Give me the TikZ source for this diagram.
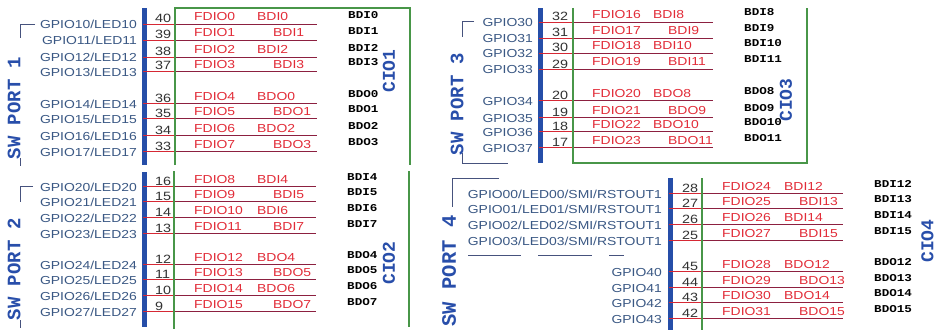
\documentclass[tikz,border=0pt]{standalone}
\usepackage{fontspec}
\setmainfont{Liberation Sans}[FakeStretch=1.2]
\newfontfamily\monofont{Liberation Mono}[FakeStretch=1.2]
\newfontfamily\monorot{Liberation Mono}
\definecolor{gpiocol}{RGB}{58,88,132}
\definecolor{redtxt}{RGB}{226,44,56}
\definecolor{pincol}{RGB}{50,50,50}
\definecolor{bluetxt}{RGB}{40,78,170}
\definecolor{barcol}{RGB}{38,78,168}
\definecolor{greencol}{RGB}{72,150,72}
\definecolor{sigred}{RGB}{214,40,52}
\definecolor{sigdark}{RGB}{140,32,64}
\definecolor{brkcol}{RGB}{70,82,125}
\tikzset{
  gpio/.style={font=\fontsize{11.6}{12}\selectfont, text=gpiocol, anchor=base east, inner sep=0},
  pinno/.style={font=\fontsize{12}{12}\selectfont, text=pincol, anchor=base west, inner sep=0},
  fdio/.style={font=\fontsize{11.6}{12}\selectfont, text=redtxt, anchor=base west, inner sep=0},
  bdo/.style={font=\monofont\bfseries\fontsize{10.5}{11}\selectfont, text=black, anchor=base west, inner sep=0},
  rotlbl/.style={font=\monorot\bfseries\fontsize{19}{20}\selectfont, text=bluetxt, rotate=90, inner sep=0},
  ciolbl/.style={font=\monorot\bfseries\fontsize{18}{20}\selectfont, text=bluetxt, rotate=90, inner sep=0},
  sigA/.style={draw=sigred, line width=0.9pt},
  sigB/.style={draw=sigdark, line width=0.9pt},
  grn/.style={draw=greencol, line width=1.1pt},
  brk/.style={draw=brkcol, line width=1pt},
}
\begin{document}
\begin{tikzpicture}[x=1pt,y=-1pt]
\useasboundingbox (0,0) rectangle (936,329);
\fill[white] (0,0) rectangle (936,329);
\clip (0,0) rectangle (936,329);

% ---------------- Block 1 ----------------
\fill[barcol] (142,8) rectangle (147,165);
\foreach \y/\p [count=\k from 0] in {24/40,40/39,57/38,71/37,103/36,118/35,135/34,151/33} {
  \pgfmathtruncatemacro\m{mod(\k,4)}
  \pgfmathtruncatemacro\bx{mod(\k,2)==0 ? 257 : 273}
  \coordinate (a1-\k) at (143,\y);
  \coordinate (m1-\k) at (175,\y);
  \coordinate (e1-\k) at (317,\y);
  \draw[sigA] (a1-\k) -- (m1-\k);
  \draw[sigB] (m1-\k) -- (e1-\k);
  \node[gpio] (g1-\k) at (137,\y+5) {GPIO1\k/LED1\k};
  \node[pinno] (n1-\k) at (155,\y-1) {\p};
  \node[fdio] (f1-\k) at (194,\y-3) {FDIO\k};
  \node[fdio] (b1-\k) at (\bx,\y-3) {\ifnum\k<4 BDI\m\else BDO\m\fi};
  \node[bdo] (r1-\k) at (348,\y-5.2) {\ifnum\k<4 BDI\m\else BDO\m\fi};
}
\draw[grn] (175,165) -- (175,8) -- (410,8) -- (410,165);
\node[ciolbl] (cio1) at (389,71) {CIO1};
\node[rotlbl] (sw1) at (14,108) {SW PORT 1};
\coordinate (t1a) at (35,25); \coordinate (t1b) at (20,25); \coordinate (t1c) at (20,38);
\draw[brk] (t1a) -- (t1b) -- (t1c);
\coordinate (u1a) at (20,158); \coordinate (u1b) at (20,166);
\draw[brk] (u1a) -- (u1b);

% ---------------- Block 2 ----------------
\fill[barcol] (142,172) rectangle (147,327);
\foreach \y/\p [count=\k from 0] in {186/16,201/15,217/14,233/13,264/12,279/11,295/10,311/9} {
  \pgfmathtruncatemacro\m{mod(\k,4)+4}
  \pgfmathtruncatemacro\fd{\k+8}
  \pgfmathtruncatemacro\bx{mod(\k,2)==0 ? 257 : 273}
  \coordinate (a2-\k) at (143,\y);
  \coordinate (m2-\k) at (174,\y);
  \coordinate (e2-\k) at (316,\y);
  \draw[sigA] (a2-\k) -- (m2-\k);
  \draw[sigB] (m2-\k) -- (e2-\k);
  \node[gpio] (g2-\k) at (137,\y+5) {GPIO2\k/LED2\k};
  \node[pinno] (n2-\k) at (155,\y-1) {\p};
  \node[fdio] (f2-\k) at (194,\y-3) {FDIO\fd};
  \node[fdio] (b2-\k) at (\bx,\y-3) {\ifnum\k<4 BDI\m\else BDO\m\fi};
  \node[bdo] (r2-\k) at (347,\y-5.2) {\ifnum\k<4 BDI\m\else BDO\m\fi};
}
\draw[grn] (174,171) -- (174,329);
\draw[grn] (409,171) -- (409,327);
\node[ciolbl] (cio2) at (389,263) {CIO2};
\node[rotlbl] (sw2) at (14,269) {SW PORT 2};
\coordinate (t2a) at (33,186); \coordinate (t2b) at (20,186); \coordinate (t2c) at (20,202);
\draw[brk] (t2a) -- (t2b) -- (t2c);
\coordinate (u2a) at (20,320); \coordinate (u2b) at (20,328);
\draw[brk] (u2a) -- (u2b);

% ---------------- Block 3 ----------------
\fill[barcol] (538,8) rectangle (543,163);
\foreach \y/\p [count=\k from 0] in {22/32,38/31,53/30,69/29,100/20,117/19,131/18,147/17} {
  \pgfmathtruncatemacro\m{mod(\k,4)+8}
  \pgfmathtruncatemacro\fd{\k+16}
  \pgfmathtruncatemacro\bx{mod(\k,2)==0 ? 653 : 668}
  \coordinate (a3-\k) at (539,\y);
  \coordinate (m3-\k) at (573,\y);
  \coordinate (e3-\k) at (713,\y);
  \draw[sigA] (a3-\k) -- (m3-\k);
  \draw[sigB] (m3-\k) -- (e3-\k);
  \node[gpio] (g3-\k) at (533,\y+5) {GPIO3\k};
  \node[pinno] (n3-\k) at (552,\y-1) {\p};
  \node[fdio] (f3-\k) at (592,\y-3) {FDIO\fd};
  \node[fdio] (b3-\k) at (\bx,\y-3) {\ifnum\k<4 BDI\m\else BDO\m\fi};
  \node[bdo] (r3-\k) at (744,\y-6) {\ifnum\k<4 BDI\m\else BDO\m\fi};
}
\draw[grn] (573,8) -- (573,163) -- (807,163) -- (807,8);
\node[ciolbl] (cio3) at (786,100) {CIO3};
\node[rotlbl] (sw3) at (457,104) {SW PORT 3};
\coordinate (t3a) at (474,22); \coordinate (t3b) at (462,22); \coordinate (t3c) at (462,37);
\draw[brk] (t3a) -- (t3b) -- (t3c);
\coordinate (u3a) at (462,153); \coordinate (u3b) at (462,163); \coordinate (u3c) at (508,163);
\draw[brk] (u3a) -- (u3b) -- (u3c);

% ---------------- Block 4 ----------------
\fill[barcol] (668,178) rectangle (673,330);
\foreach \y/\p [count=\k from 0] in {193/28,208/27,224/26,240/25,271/45,287/44,302/43,318/42} {
  \pgfmathtruncatemacro\m{mod(\k,4)+12}
  \pgfmathtruncatemacro\q{mod(\k,4)}
  \pgfmathtruncatemacro\fd{\k+24}
  \pgfmathtruncatemacro\bx{mod(\k,2)==0 ? 784 : 799}
  \coordinate (a4-\k) at (669,\y);
  \coordinate (m4-\k) at (702,\y);
  \coordinate (e4-\k) at (843,\y);
  \draw[sigA] (a4-\k) -- (m4-\k);
  \draw[sigB] (m4-\k) -- (e4-\k);
  \node[gpio] (g4-\k) at (662,\y+5) {\ifnum\k<4 GPIO0\q/LED0\q/SMI/RSTOUT1\else GPIO4\q\fi};
  \node[pinno] (n4-\k) at (682,\y-1) {\p};
  \node[fdio] (f4-\k) at (722,\y-3) {FDIO\fd};
  \node[fdio] (b4-\k) at (\bx,\y-3) {\ifnum\k<4 BDI\m\else BDO\m\fi};
  \node[bdo] (r4-\k) at (874,\y-6) {\ifnum\k<4 BDI\m\else BDO\m\fi};
}
\draw[grn] (702,178) -- (702,330);
\node[ciolbl] (cio4) at (927.5,241) {CIO4};
\node[rotlbl, font=\monorot\bfseries\fontsize{20.5}{21}\selectfont] (sw4) at (449,271) {SW PORT 4};
\coordinate (t4a) at (499,178); \coordinate (t4b) at (452,178); \coordinate (t4c) at (452,207);
\draw[brk] (t4a) -- (t4b) -- (t4c);
\coordinate (d1a) at (468,255); \coordinate (d1b) at (521,255);
\coordinate (d2a) at (538,255); \coordinate (d2b) at (592,255);
\coordinate (d3a) at (609,255); \coordinate (d3b) at (624,255);
\draw[brk] (d1a) -- (d1b);
\draw[brk] (d2a) -- (d2b);
\draw[brk] (d3a) -- (d3b);
\end{tikzpicture}
\end{document}
